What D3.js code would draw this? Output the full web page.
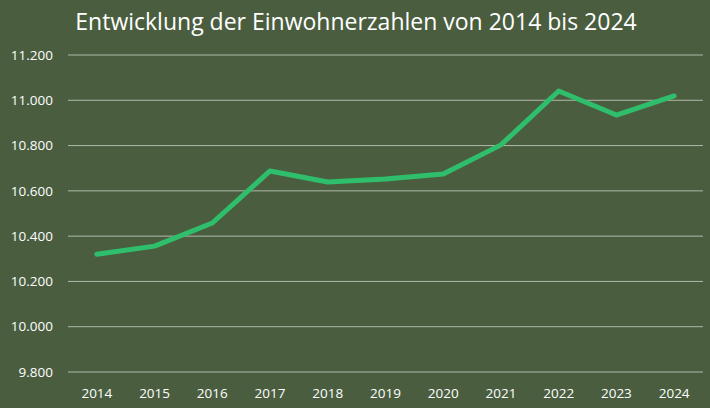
<!DOCTYPE html>
<html><head><meta charset="utf-8">
<script src="https://cdn.jsdelivr.net/npm/d3@7"></script>
<style>body{margin:0;background:#4a5e3f;}svg{display:block;font-family:"Open Sans",Arial,sans-serif;}</style>
</head><body><svg width="710" height="408"></svg>
<script>
const years = ["2014","2015","2016","2017","2018","2019","2020","2021","2022","2023","2024"];
const population = [10320,10356,10458,10688,10639,10652,10674,10803,11041,10935,11019];
const yTicks = [9800,10000,10200,10400,10600,10800,11000,11200];
const title = "Entwicklung der Einwohnerzahlen von 2014 bis 2024";

const svg = d3.select("svg");
svg.append("rect").attr("width",710).attr("height",408).attr("fill","#4a5e3f");
const m = {l:68, r:7, t:55, b:36};
const W = 710, H = 408;
const x = d3.scaleBand().domain(years).range([m.l, W-m.r]);
const y = d3.scaleLinear().domain([9800,11200]).range([H-m.b, m.t]);
const yFmt = v => { const t = Math.floor(v/1000), r = v%1000; return t + "." + String(r).padStart(3,"0"); };

svg.append("g").selectAll("line").data(yTicks).join("line")
  .attr("x1",m.l).attr("x2",W-m.r).attr("y1",d=>y(d)).attr("y2",d=>y(d))
  .attr("stroke","#c9d0c3").attr("stroke-width",0.8);
svg.append("g").selectAll("text").data(yTicks).join("text")
  .attr("x",53).attr("y",d=>y(d)).attr("dy","0.35em").attr("text-anchor","end")
  .attr("fill","#ffffff").attr("font-size",13.5).text(yFmt);
svg.append("g").selectAll("text").data(years).join("text")
  .attr("x",d=>x(d)+x.bandwidth()/2).attr("y",H-m.b+26).attr("text-anchor","middle")
  .attr("fill","#ffffff").attr("font-size",13.5).text(d=>d);
const line = d3.line().x((d,i)=>x(years[i])+x.bandwidth()/2).y(d=>y(d));
svg.append("path").datum(population).attr("d",line).attr("fill","none")
  .attr("stroke","#2fbf6c").attr("stroke-width",5).attr("stroke-linejoin","round").attr("stroke-linecap","round");
svg.append("text").attr("x",356).attr("y",30).attr("text-anchor","middle")
  .attr("fill","#ffffff").attr("font-size",23).text(title);
</script></body></html>
